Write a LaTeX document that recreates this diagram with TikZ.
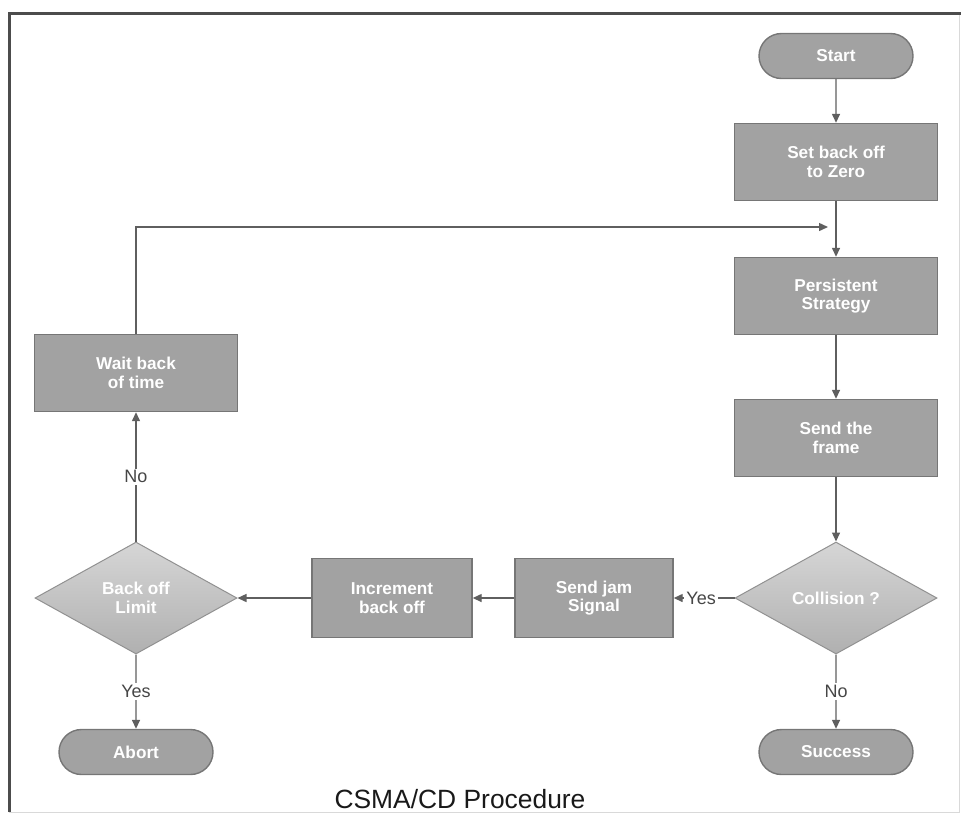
\documentclass[tikz,border=0pt]{standalone}
\usepackage{fontspec}
\setmainfont{Liberation Sans}
\usetikzlibrary{shapes.geometric,shapes.misc,arrows.meta}
\definecolor{boxfill}{RGB}{162,162,162}
\definecolor{boxline}{RGB}{118,118,118}
\definecolor{diaTop}{RGB}{214,214,214}
\definecolor{diaBot}{RGB}{176,176,176}
\definecolor{wire}{RGB}{95,95,95}
\definecolor{lbl}{RGB}{70,70,70}
\begin{document}
\begin{tikzpicture}[x=0.5pt,y=-0.5pt,
  every node/.style={font=\bfseries\fontsize{8.6}{9.4}\selectfont, text=white, align=center, inner sep=0pt},
  process/.style={rectangle, draw=boxline, fill=boxfill, line width=0.7pt,
    minimum width=101.5pt, minimum height=38.5pt},
  terminal/.style={rounded rectangle, draw=boxline, fill=boxfill, line width=0.7pt,
    minimum width=77pt, minimum height=22.5pt},
  decision/.style={diamond, draw=boxline!80, top color=diaTop, bottom color=diaBot,
    line width=0.5pt, minimum width=101pt, minimum height=56pt, aspect=1.8},
  flow/.style={draw=wire, line width=0.7pt, -{Triangle[length=4.5pt,width=4pt]}},
  lab/.style={font=\fontsize{9}{10}\selectfont, text=lbl, fill=white, inner sep=1pt}]

\useasboundingbox (0,0) rectangle (961,815);

% page frame
\draw[line width=0.5pt, draw=black!15] (9,13) rectangle (959,812);
\draw[line width=1.5pt, draw=black!70] (9,812) -- (9,13) -- (961,13);

% main column
\node[terminal] (start) at (836,56) {Start};
\node[process] (zero) at (836,162) {Set back off\\to Zero};
\node[process] (persist) at (836,296) {Persistent\\Strategy};
\node[process] (send) at (836,438) {Send the\\frame};
\node[decision] (coll) at (836,598) {Collision ?};
\node[terminal] (success) at (836,752) {Success};

% collision branch
\node[process, minimum width=79pt, minimum height=39.5pt] (jam) at (594,598) {Send jam\\Signal};
\node[process, minimum width=80pt, minimum height=39.5pt] (incr) at (392,598) {Increment\\back off};
\node[decision] (limit) at (136,598) {Back off\\Limit};
\node[process] (wait) at (136,373) {Wait back\\of time};
\node[terminal] (abort) at (136,752) {Abort};
\coordinate (merge) at (828,227);

\node[font=\fontsize{13.2}{15}\selectfont, text=black!90] (title) at (460,799) {CSMA/CD Procedure};

% connectors
\draw[flow] (start) -- (zero);
\draw[flow] (zero) -- (persist);
\draw[flow] (persist) -- (send);
\draw[flow] (send) -- (coll);
\draw[flow] (coll) -- node[lab]{No} (success);
\draw[flow] (coll) -- node[lab, pos=0.55]{Yes} (jam);
\draw[flow] (jam) -- (incr);
\draw[flow] (incr) -- (limit);
\draw[flow] (limit) -- node[lab]{Yes} (abort);
\draw[flow] (limit) -- node[lab]{No} (wait);
\draw[flow] (wait.north) |- (merge);

\end{tikzpicture}
\end{document}
